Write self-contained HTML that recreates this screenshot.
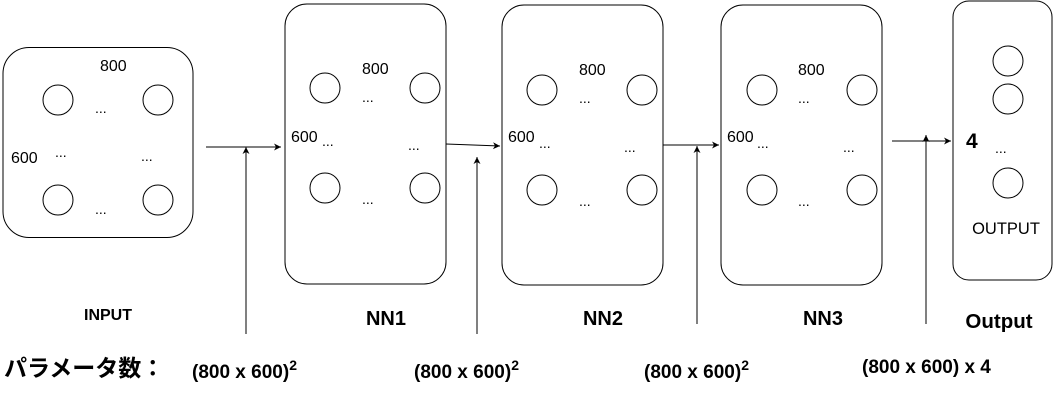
<!DOCTYPE html>
<html><head><meta charset="utf-8"><style>
html,body{margin:0;padding:0;background:#fff}
svg{display:block}
text{font-family:"Liberation Sans","Noto Sans CJK JP",sans-serif;fill:#000}
.b{font-weight:bold}
</style></head><body>
<svg width="1058" height="402" viewBox="0 0 1058 402" xmlns="http://www.w3.org/2000/svg">
<defs><marker id="a" markerWidth="8" markerHeight="8" refX="7" refY="4" orient="auto" markerUnits="userSpaceOnUse"><path d="M0,0.5 L7,4 L0,7.5 L2,4 Z" fill="#000"/></marker></defs>
<g fill="none" stroke="#000" stroke-width="1">
<rect x="3" y="47.5" width="190" height="190" rx="26"/>
<rect x="285" y="4" width="161" height="280" rx="22"/>
<rect x="502" y="5" width="161" height="280" rx="22"/>
<rect x="721" y="5" width="161" height="280" rx="22"/>
<rect x="953" y="1" width="99" height="279" rx="16"/>
<circle cx="58" cy="100" r="15"/><circle cx="158" cy="100" r="15"/><circle cx="58" cy="200" r="15"/><circle cx="158" cy="200" r="15"/>
<circle cx="325" cy="88" r="15"/><circle cx="425" cy="88" r="15"/><circle cx="325" cy="188" r="15"/><circle cx="425" cy="188" r="15"/>
<circle cx="542" cy="90" r="15"/><circle cx="642" cy="90" r="15"/><circle cx="542" cy="190" r="15"/><circle cx="642" cy="190" r="15"/>
<circle cx="762" cy="90" r="15"/><circle cx="862" cy="90" r="15"/><circle cx="762" cy="190" r="15"/><circle cx="862" cy="190" r="15"/>
<circle cx="1008" cy="61" r="15"/><circle cx="1008" cy="99" r="15"/><circle cx="1008" cy="183" r="15"/>
<line x1="206" y1="147" x2="281" y2="147" marker-end="url(#a)"/>
<line x1="246" y1="334" x2="246" y2="147" marker-end="url(#a)"/>
<line x1="446" y1="144" x2="500" y2="146" marker-end="url(#a)"/>
<line x1="477" y1="334" x2="477" y2="157" marker-end="url(#a)"/>
<line x1="663" y1="145" x2="719" y2="145" marker-end="url(#a)"/>
<line x1="697" y1="324" x2="697" y2="146" marker-end="url(#a)"/>
<line x1="892" y1="141" x2="951" y2="141" marker-end="url(#a)"/>
<line x1="926" y1="324" x2="926" y2="135" marker-end="url(#a)"/>
</g>
<g font-size="16">
<text x="100" y="71">800</text><text x="11" y="163">600</text>
<text x="362" y="74">800</text><text x="291" y="142">600</text>
<text x="579" y="75">800</text><text x="508" y="142">600</text>
<text x="798" y="75">800</text><text x="727" y="142">600</text>
<text x="1006" y="234" text-anchor="middle" font-size="16.5">OUTPUT</text>
</g>
<g font-size="14">
<text x="95" y="113">...</text><text x="55" y="157">...</text><text x="141" y="161">...</text><text x="95" y="214">...</text>
<text x="362" y="102">...</text><text x="322" y="146">...</text><text x="408" y="150">...</text><text x="362" y="204">...</text>
<text x="579" y="103">...</text><text x="539" y="148">...</text><text x="624" y="152">...</text><text x="579" y="206">...</text>
<text x="798" y="103">...</text><text x="757" y="148">...</text><text x="843" y="152">...</text><text x="798" y="206">...</text>
<text x="995" y="153">...</text>
</g>
<text x="966" y="148" class="b" font-size="21">4</text>
<text x="108" y="320" class="b" font-size="16" text-anchor="middle">INPUT</text>
<text x="386" y="325" class="b" font-size="20" text-anchor="middle">NN1</text>
<text x="603" y="325" class="b" font-size="20" text-anchor="middle">NN2</text>
<text x="823" y="325" class="b" font-size="20" text-anchor="middle">NN3</text>
<text x="999" y="328" class="b" font-size="20.5" text-anchor="middle">Output</text>
<text x="4" y="376" class="b" font-size="23">パラメータ数：</text>
<text x="192" y="378" class="b" font-size="19">(800 x 600)<tspan font-size="14" dy="-8">2</tspan></text>
<text x="414" y="378" class="b" font-size="19">(800 x 600)<tspan font-size="14" dy="-8">2</tspan></text>
<text x="644" y="378" class="b" font-size="19">(800 x 600)<tspan font-size="14" dy="-8">2</tspan></text>
<text x="862" y="373" class="b" font-size="19">(800 x 600) x 4</text>
</svg>
</body></html>
